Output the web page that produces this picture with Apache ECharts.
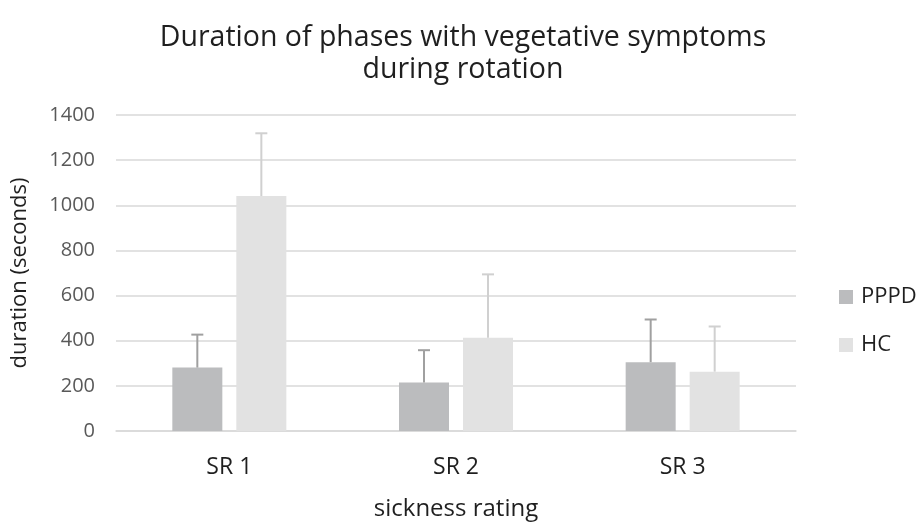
<!DOCTYPE html>
<html>
<head>
<meta charset="utf-8">
<script src="https://cdn.jsdelivr.net/npm/echarts@6/dist/echarts.min.js"></script>
<style>
  html, body { margin: 0; padding: 0; background: #fff; }
  #chart { width: 921px; height: 522px; }
</style>
</head>
<body>
<div id="chart"></div>
<script>
const categories = ['SR 1', 'SR 2', 'SR 3'];
const pppdMean = [281, 215, 305];
const pppdUpper = [427, 358, 494];
const hcMean = [1041, 413, 263];
const hcUpper = [1319, 694, 463];
const yTicks = [0, 200, 400, 600, 800, 1000, 1200, 1400];

const FONT = 'Open Sans';

const chart = echarts.init(document.getElementById('chart'));

// error bar drawn only upward from the bar top, with a small cap
function errorBar(color, seriesIndex) {
  return function (params, api) {
    const cat = api.value(0);
    const low = api.coord([cat, api.value(1)]);
    const high = api.coord([cat, api.value(2)]);
    // offset of this bar in the category: barWidth 50, gap 14
    const offset = seriesIndex === 0 ? -32 : 32;
    const x = low[0] + offset;
    const style = { stroke: color, lineWidth: 2 };
    return {
      type: 'group',
      children: [
        { type: 'line', shape: { x1: x, y1: low[1], x2: x, y2: high[1] }, style },
        { type: 'line', shape: { x1: x - 6, y1: high[1], x2: x + 6, y2: high[1] }, style }
      ]
    };
  };
}

const option = {
  animation: false,
  title: {
    text: 'Duration of phases with vegetative symptoms\nduring rotation',
    left: 458,
    textAlign: 'center',
    top: 17,
    textStyle: { fontFamily: FONT, fontSize: 28.5, fontWeight: 'normal', color: '#1f1f1f', lineHeight: 32 }
  },
  legend: {
    orient: 'vertical',
    left: 839,
    top: 285,
    padding: 0,
    itemWidth: 14,
    itemHeight: 14,
    itemGap: 24,
    icon: 'rect',
    data: ['PPPD', 'HC'],
    textStyle: { fontFamily: FONT, fontSize: 22, lineHeight: 24, color: '#1f1f1f', padding: [0, 0, 0, 3] }
  },
  grid: { left: 116, right: 125, top: 115, bottom: 91, outerBoundsMode: 'none' },
  xAxis: {
    type: 'category',
    data: categories,
    name: 'sickness rating',
    nameLocation: 'middle',
    nameGap: 66,
    nameTextStyle: { fontFamily: FONT, fontSize: 24, color: '#1f1f1f' },
    axisLine: { lineStyle: { color: '#d9d9d9', width: 1.5 } },
    axisTick: { show: false },
    axisLabel: { fontFamily: FONT, fontSize: 23, color: '#1f1f1f', margin: 25 }
  },
  yAxis: {
    type: 'value',
    min: yTicks[0],
    max: yTicks[yTicks.length - 1],
    interval: 200,
    name: 'duration (seconds)',
    nameLocation: 'middle',
    nameGap: 85,
    nameTextStyle: { fontFamily: FONT, fontSize: 22, color: '#1f1f1f' },
    axisLine: { show: false },
    axisTick: { show: false },
    axisLabel: { fontFamily: FONT, fontSize: 20, color: '#595959', margin: 21, formatter: v => String(v) },
    splitLine: { lineStyle: { color: '#d9d9d9', width: 1.5 } }
  },
  series: [
    {
      name: 'PPPD',
      type: 'bar',
      data: pppdMean,
      barWidth: 50,
      barGap: '28%',
      itemStyle: { color: '#bbbcbe' }
    },
    {
      name: 'HC',
      type: 'bar',
      data: hcMean,
      barWidth: 50,
      itemStyle: { color: '#e2e2e2' }
    },
    {
      type: 'custom',
      name: 'PPPD err',
      renderItem: errorBar('#a0a0a0', 0),
      data: categories.map((c, i) => [i, pppdMean[i], pppdUpper[i]]),
      z: 3
    },
    {
      type: 'custom',
      name: 'HC err',
      renderItem: errorBar('#d0d0d0', 1),
      data: categories.map((c, i) => [i, hcMean[i], hcUpper[i]]),
      z: 3
    }
  ]
};

chart.setOption(option);
</script>
</body>
</html>
